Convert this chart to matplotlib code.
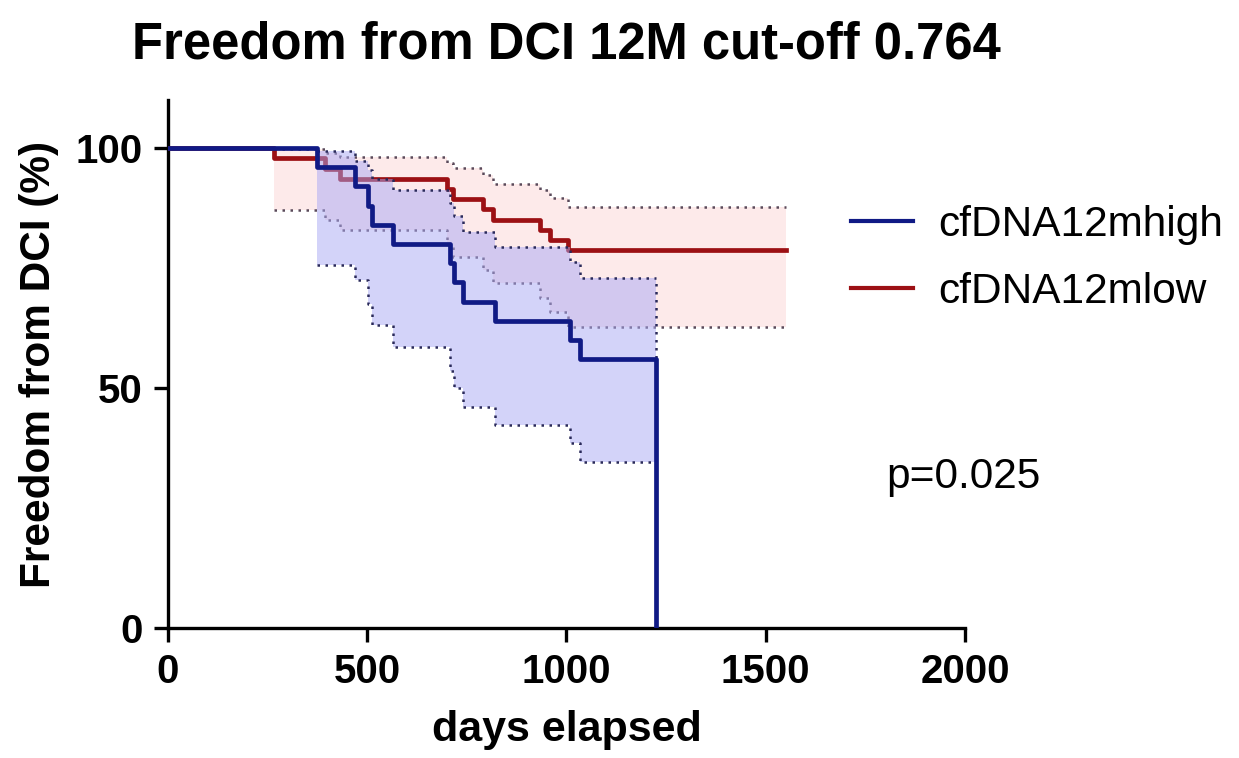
import matplotlib
matplotlib.use("Agg")
import matplotlib.pyplot as plt

plt.rcParams['font.family'] = ['Liberation Sans', 'DejaVu Sans']

# cfDNA12mhigh: event times (days), survival (%), 95% CI
high_t = [0, 373, 469, 502, 511, 565, 708, 718, 741, 821, 1009, 1034, 1225]
high_s = [100, 96, 92, 88, 84, 80, 76, 72, 68, 64, 60, 56, 0]
high_ci_t = [373, 469, 502, 511, 565, 708, 718, 741, 821, 1009, 1034, 1225]
high_lo = [75.6, 72.5, 67.5, 63.1, 58.6, 53.5, 50.0, 46.1, 42.3, 38.5, 34.6, 34.6]
high_hi = [99.4, 97.3, 95.5, 93.5, 91.2, 88.5, 85.8, 82.5, 79.4, 76.2, 72.9, 72.9]

# cfDNA12mlow
low_t = [0, 265, 394, 432, 700, 715, 791, 816, 933, 958, 1004, 1552]
low_s = [100, 97.9, 95.7, 93.6, 91.5, 89.4, 87.2, 85.1, 83.0, 80.9, 78.7, 78.7]
low_ci_t = [265, 394, 432, 700, 715, 791, 816, 933, 958, 1004, 1552]
low_lo = [87.1, 85.0, 82.9, 80.0, 77.4, 74.5, 71.8, 68.8, 65.9, 62.8, 62.8]
low_hi = [99.7, 99.0, 98.2, 96.9, 95.8, 94.4, 92.6, 91.2, 89.5, 87.8, 87.8]

labels = ['cfDNA12mhigh', 'cfDNA12mlow']
p_text = 'p=0.025'

blue = '#101a85'
red = '#9c1014'
dots = (0, (1, 2.2))

fig = plt.figure(figsize=(12.39, 7.58), dpi=100)
ax = fig.add_axes([0.1356, 0.1715, 0.6432, 0.6965])

# red group first, blue band drawn over it
ax.fill_between(low_ci_t, low_lo, low_hi, step='post', color='#fdeaea', lw=0, zorder=1)
ax.step(low_ci_t, low_lo, where='post', color='#5a4a5a', lw=1.8, ls=dots, zorder=2)
ax.step(low_ci_t, low_hi, where='post', color='#5a4a5a', lw=1.8, ls=dots, zorder=2)
l2, = ax.step(low_t, low_s, where='post', color=red, lw=3.4, zorder=3, label=labels[1])

ax.fill_between(high_ci_t, high_lo, high_hi, step='post', color='#a8a8f4', alpha=0.5, lw=0, zorder=4)
ax.step(high_ci_t, high_lo, where='post', color='#2a2a5a', lw=1.8, ls=dots, zorder=5)
ax.step(high_ci_t, high_hi, where='post', color='#2a2a5a', lw=1.8, ls=dots, zorder=5)
ax.vlines([high_ci_t[-1]], high_lo[-1], high_hi[-1], color='#2a2a5a', lw=1.8, ls=dots, zorder=5)
l1, = ax.step(high_t, high_s, where='post', color=blue, lw=3.4, zorder=6, label=labels[0])

ax.set_xlim(0, 2000)
ax.set_ylim(0, 110)
ax.set_xticks([0, 500, 1000, 1500, 2000])
ax.set_yticks([0, 50, 100])
for s in ['top', 'right']:
    ax.spines[s].set_visible(False)
for s in ['left', 'bottom']:
    ax.spines[s].set_linewidth(2.4)
ax.tick_params(width=2.4, length=10, labelsize=29, pad=8)
for t in ax.get_xticklabels() + ax.get_yticklabels():
    t.set_fontweight('bold')

ax.set_xlabel('days elapsed', fontsize=31, fontweight='bold', labelpad=14)
ax.set_ylabel('Freedom from DCI (%)', fontsize=30.5, fontweight='bold', labelpad=12)
ax.set_title('Freedom from DCI 12M cut-off 0.764', fontsize=36.5, fontweight='bold', pad=30)

leg = ax.legend(handles=[l1, l2], loc='center left', bbox_to_anchor=(0.836, 0.70),
                frameon=False, fontsize=30.5, handlelength=1.45, handletextpad=0.6,
                labelspacing=0.62, borderaxespad=0)
for h in leg.legend_handles:
    h.set_linewidth(3)

ax.text(1802, 31.5, p_text, fontsize=30.5, ha='left', va='center')

fig.savefig('out.png', dpi=100)
